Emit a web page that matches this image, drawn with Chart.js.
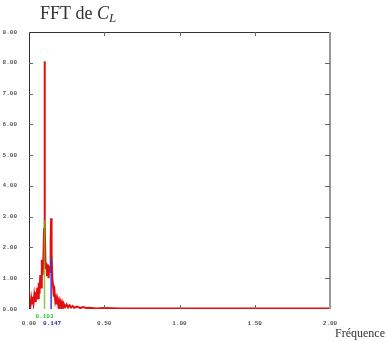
<!DOCTYPE html>
<html>
<head>
<meta charset="utf-8">
<script src="https://cdn.jsdelivr.net/npm/chart.js@4.4.1/dist/chart.umd.min.js"></script>
<style>
  html, body { margin: 0; padding: 0; background: #fff; }
  #wrap { width: 386px; height: 341px; position: relative; }
</style>
</head>
<body>
<div id="wrap"><canvas id="fftChart"></canvas></div>
<script>
// Spectre FFT du coefficient de portance
const frequences = [
  0.000, 0.005, 0.010, 0.015, 0.020, 0.025, 0.030, 0.035, 0.040, 0.045,
  0.050, 0.055, 0.060, 0.065, 0.070, 0.075, 0.080, 0.085, 0.090, 0.095,
  0.100, 0.103, 0.106, 0.110, 0.115, 0.120, 0.125, 0.130, 0.135, 0.140,
  0.144, 0.147, 0.150, 0.155, 0.160, 0.165, 0.170, 0.175, 0.180, 0.185,
  0.190, 0.195, 0.200, 0.205, 0.210, 0.215, 0.220, 0.225, 0.230, 0.240,
  0.250, 0.260, 0.270, 0.280, 0.290, 0.300, 0.320, 0.340, 0.360, 0.380,
  0.400, 0.450, 0.500, 0.600, 0.800, 1.000, 1.500, 2.000
];
const amplitudes = [
  0.15, 0.30, 0.12, 0.35, 0.18, 0.40, 0.20, 0.45, 0.25, 0.55,
  0.30, 0.70, 0.35, 0.85, 0.50, 1.10, 0.70, 1.60, 1.10, 1.50,
  2.60, 8.05, 2.80, 1.30, 1.50, 1.10, 1.45, 1.00, 1.40, 1.20,
  2.20, 2.95, 1.80, 1.00, 0.75, 0.40, 0.55, 0.25, 0.35, 0.15,
  0.30, 0.12, 0.25, 0.10, 0.22, 0.08, 0.20, 0.08, 0.18, 0.06,
  0.15, 0.05, 0.12, 0.05, 0.10, 0.04, 0.08, 0.03, 0.06, 0.03,
  0.04, 0.02, 0.03, 0.02, 0.02, 0.02, 0.02, 0.02
];
// Fréquences repérées (vert et bleu) et hauteur des traits
const picFrequences = [0.103, 0.147];
const picHauteurs = [2.9, 1.65];
const picCouleurs = ['rgba(110, 190, 20, 0.8)', '#3a3ad0'];
const picLabels = ['0.103', '0.147'];

const xTicks = [0, 0.5, 1.0, 1.5, 2.0];
const yTicks = [0, 1, 2, 3, 4, 5, 6, 7, 8, 9];

const monoFont = '"Liberation Mono", "DejaVu Sans Mono", monospace';
const serifFont = '"Liberation Serif", "DejaVu Serif", serif';

// Cadre, graduations internes, repères et titres
const decorPlugin = {
    id: 'decor',
    afterDraw(chart) {
        const { ctx, chartArea: a, scales: { x, y } } = chart;
        ctx.save();

        // cadre
        ctx.lineWidth = 1;
        ctx.strokeStyle = '#333';
        ctx.beginPath();
        ctx.moveTo(a.left + 0.5, a.bottom);
        ctx.lineTo(a.left + 0.5, a.top + 0.5);
        ctx.lineTo(a.right, a.top + 0.5);
        ctx.stroke();
        ctx.strokeStyle = '#999';
        ctx.lineWidth = 2;
        ctx.beginPath();
        ctx.moveTo(a.right, a.top);
        ctx.lineTo(a.right, a.bottom);
        ctx.stroke();

        // graduations vers l'intérieur
        ctx.lineWidth = 1;
        ctx.strokeStyle = '#666';
        yTicks.slice(1, -1).forEach(v => {
            const py = Math.round(y.getPixelForValue(v)) + 0.5;
            ctx.beginPath();
            ctx.moveTo(a.left, py); ctx.lineTo(a.left + 4, py);
            ctx.moveTo(a.right - 5, py); ctx.lineTo(a.right, py);
            ctx.stroke();
        });
        xTicks.slice(1, -1).forEach(v => {
            const px = Math.round(x.getPixelForValue(v)) + 0.5;
            ctx.beginPath();
            ctx.moveTo(px, a.top); ctx.lineTo(px, a.top + 4);
            ctx.moveTo(px, a.bottom - 4); ctx.lineTo(px, a.bottom);
            ctx.stroke();
        });

        // étiquettes des pics
        ctx.font = 'bold 6px ' + monoFont;
        ctx.textAlign = 'center';
        ctx.textBaseline = 'middle';
        ctx.fillStyle = '#2fbf2f';
        ctx.fillText(picLabels[0], x.getPixelForValue(picFrequences[0]), 316);
        ctx.fillStyle = '#2a2aa0';
        ctx.fillText(picLabels[1], x.getPixelForValue(picFrequences[1]) + 1, 323);

        // titre
        ctx.fillStyle = '#333';
        ctx.textAlign = 'left';
        ctx.textBaseline = 'alphabetic';
        ctx.font = '18px ' + serifFont;
        ctx.fillText('FFT de ', 40, 19);
        let tx = 40 + ctx.measureText('FFT de ').width;
        ctx.font = 'italic 18px ' + serifFont;
        ctx.fillText('C', tx, 19);
        tx += ctx.measureText('C').width;
        ctx.font = 'italic 13px ' + serifFont;
        ctx.fillText('L', tx, 22);

        // titre de l'axe x
        ctx.font = '12px ' + serifFont;
        ctx.fillText('Fréquence', 335, 337);
        ctx.restore();
    }
};

const datasets = [{
    data: frequences.map((f, i) => ({ x: f, y: amplitudes[i] })),
    borderColor: '#e01010',
    borderWidth: 2,
    pointRadius: 0,
    tension: 0,
    order: 2
}];
picFrequences.forEach((f, i) => {
    datasets.push({
        data: [{ x: f, y: 0 }, { x: f, y: picHauteurs[i] }],
        borderColor: picCouleurs[i],
        borderWidth: 1.5,
        pointRadius: 0,
        order: 1
    });
});

new Chart(document.getElementById('fftChart'), {
    type: 'line',
    data: { datasets },
    options: {
        responsive: true,
        maintainAspectRatio: false,
        animation: false,
        layout: { padding: { left: 3, top: 32, right: 56, bottom: 0 } },
        plugins: { legend: { display: false }, tooltip: { enabled: false } },
        scales: {
            x: {
                type: 'linear',
                min: 0, max: 2,
                afterFit: s => { s.height = 32; },
                afterBuildTicks: s => { s.ticks = xTicks.map(v => ({ value: v })); },
                grid: { display: false, drawTicks: false },
                border: { display: false },
                ticks: {
                    padding: 11,
                    color: '#555',
                    font: { family: monoFont, size: 6, weight: 'bold' },
                    callback: v => v.toFixed(2)
                }
            },
            y: {
                min: 0, max: 9,
                afterFit: s => { s.width = 26; },
                afterBuildTicks: s => { s.ticks = yTicks.map(v => ({ value: v })); },
                grid: { display: false, drawTicks: false },
                border: { display: false },
                ticks: {
                    padding: 12,
                    color: '#555',
                    font: { family: monoFont, size: 6, weight: 'bold' },
                    callback: v => v.toFixed(2)
                }
            }
        }
    },
    plugins: [decorPlugin]
});
</script>
</body>
</html>
